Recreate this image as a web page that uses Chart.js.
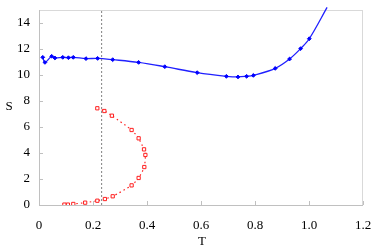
<!DOCTYPE html>
<html>
<head>
<meta charset="utf-8">
<script src="https://cdn.jsdelivr.net/npm/chart.js@4.4.0/dist/chart.umd.min.js"></script>
<style>
  html, body { margin: 0; padding: 0; background: #fff; }
  #wrap { width: 374px; height: 251px; }
</style>
</head>
<body>
<div id="wrap"><canvas id="chart"></canvas></div>
<script>
// Blue series (upper curve)
const blueT = [0.014, 0.022, 0.047, 0.059, 0.088, 0.109, 0.127, 0.174, 0.217, 0.273, 0.369, 0.466, 0.586, 0.694, 0.737, 0.769, 0.794, 0.875, 0.928, 0.969, 1.001, 1.067];
const blueS = [11.36, 10.97, 11.44, 11.31, 11.36, 11.33, 11.36, 11.26, 11.28, 11.18, 10.97, 10.64, 10.18, 9.90, 9.85, 9.90, 9.97, 10.51, 11.23, 12.03, 12.79, 15.2];

// Red series (lower, C-shaped)
const redT = [0.216, 0.242, 0.270, 0.343, 0.369, 0.389, 0.394, 0.390, 0.369, 0.343, 0.273, 0.244, 0.216, 0.171, 0.127, 0.107, 0.094];
const redS = [7.44, 7.23, 6.87, 5.77, 5.13, 4.28, 3.85, 2.92, 2.08, 1.51, 0.67, 0.46, 0.33, 0.18, 0.08, 0.03, 0.03];

// Vertical dotted reference line
const refT = [0.232, 0.232];
const refS = [0, 15];

const xTicks = [0, 0.2, 0.4, 0.6, 0.8, 1, 1.2];
const yTicks = [0, 2, 4, 6, 8, 10, 12, 14];

const toPoints = (xs, ys) => xs.map((x, i) => ({ x: x, y: ys[i] }));

const FONT = '"Liberation Serif", "Times New Roman", serif';

// frame, inward tick marks and axis titles
const framePlugin = {
    id: 'frame',
    beforeDatasetsDraw(chart) {
        const { ctx, chartArea: a, scales } = chart;
        ctx.save();
        ctx.strokeStyle = '#d9d9d9';
        ctx.lineWidth = 1;
        ctx.strokeRect(a.left + 0.5, a.top + 0.5, a.right - a.left - 1, a.bottom - a.top);
        ctx.strokeStyle = '#c0c0c0';
        ctx.beginPath();
        ctx.moveTo(a.left + 0.5, a.top);
        ctx.lineTo(a.left + 0.5, a.bottom + 0.5);
        ctx.lineTo(a.right, a.bottom + 0.5);
        xTicks.forEach(v => {
            const px = Math.round(scales.x.getPixelForValue(v)) + 0.5;
            ctx.moveTo(px, a.bottom);
            ctx.lineTo(px, a.bottom - 4);
        });
        yTicks.forEach(v => {
            const py = Math.round(scales.y.getPixelForValue(v)) + 0.5;
            ctx.moveTo(a.left, py);
            ctx.lineTo(a.left + 4, py);
        });
        ctx.stroke();
        ctx.restore();
    },
    afterDraw(chart) {
        const { ctx, chartArea: a } = chart;
        ctx.save();
        ctx.fillStyle = '#000';
        ctx.font = '13px ' + FONT;
        ctx.textAlign = 'center';
        ctx.textBaseline = 'middle';
        ctx.fillText('S', 9, 107);
        ctx.fillText('T', 202, 242);
        ctx.restore();
    }
};

new Chart(document.getElementById('chart'), {
    type: 'scatter',
    data: {
        datasets: [
            {
                data: toPoints(refT, refS),
                showLine: true,
                borderColor: '#808080',
                borderWidth: 1,
                borderDash: [2, 2],
                pointRadius: 0
            },
            {
                data: toPoints(blueT, blueS),
                showLine: true,
                borderColor: '#2020ff',
                borderWidth: 1.3,
                tension: 0.35,
                pointStyle: 'rectRot',
                pointRadius: blueT.map((t, i) => i === blueT.length - 1 ? 0 : 1.9),
                pointBackgroundColor: '#0000ff',
                pointBorderColor: '#0000ff',
                pointBorderWidth: 1,
                clip: false
            },
            {
                data: toPoints(redT, redS),
                showLine: true,
                borderColor: '#ff2020',
                borderWidth: 1.2,
                borderDash: [1.5, 3],
                tension: 0.2,
                pointStyle: 'rect',
                pointRadius: 2.3,
                pointBackgroundColor: '#ffffff',
                pointBorderColor: '#ff2020',
                pointBorderWidth: 1
            }
        ]
    },
    options: {
        responsive: true,
        maintainAspectRatio: false,
        animation: false,
        layout: { padding: { top: 10, right: 11, left: 0, bottom: 0 } },
        plugins: {
            legend: { display: false },
            tooltip: { enabled: false }
        },
        scales: {
            x: {
                type: 'linear',
                min: 0,
                max: 1.2,
                grid: { display: false, drawTicks: false },
                border: { display: false },
                ticks: {
                    stepSize: 0.2,
                    padding: 13,
                    color: '#000',
                    maxRotation: 0,
                    font: { family: FONT, size: 13 }
                },
                afterFit: scale => {
                    scale.height = 46;
                    scale.paddingLeft = 0;
                    scale.paddingRight = 0;
                }
            },
            y: {
                type: 'linear',
                min: 0,
                max: 15,
                grid: { display: false, drawTicks: false },
                border: { display: false },
                ticks: {
                    stepSize: 2,
                    includeBounds: false,
                    padding: 9,
                    color: '#000',
                    font: { family: FONT, size: 13 }
                },
                afterFit: scale => {
                    scale.width = 39;
                    scale.paddingTop = 0;
                    scale.paddingBottom = 0;
                }
            }
        }
    },
    plugins: [framePlugin]
});
</script>
</body>
</html>
